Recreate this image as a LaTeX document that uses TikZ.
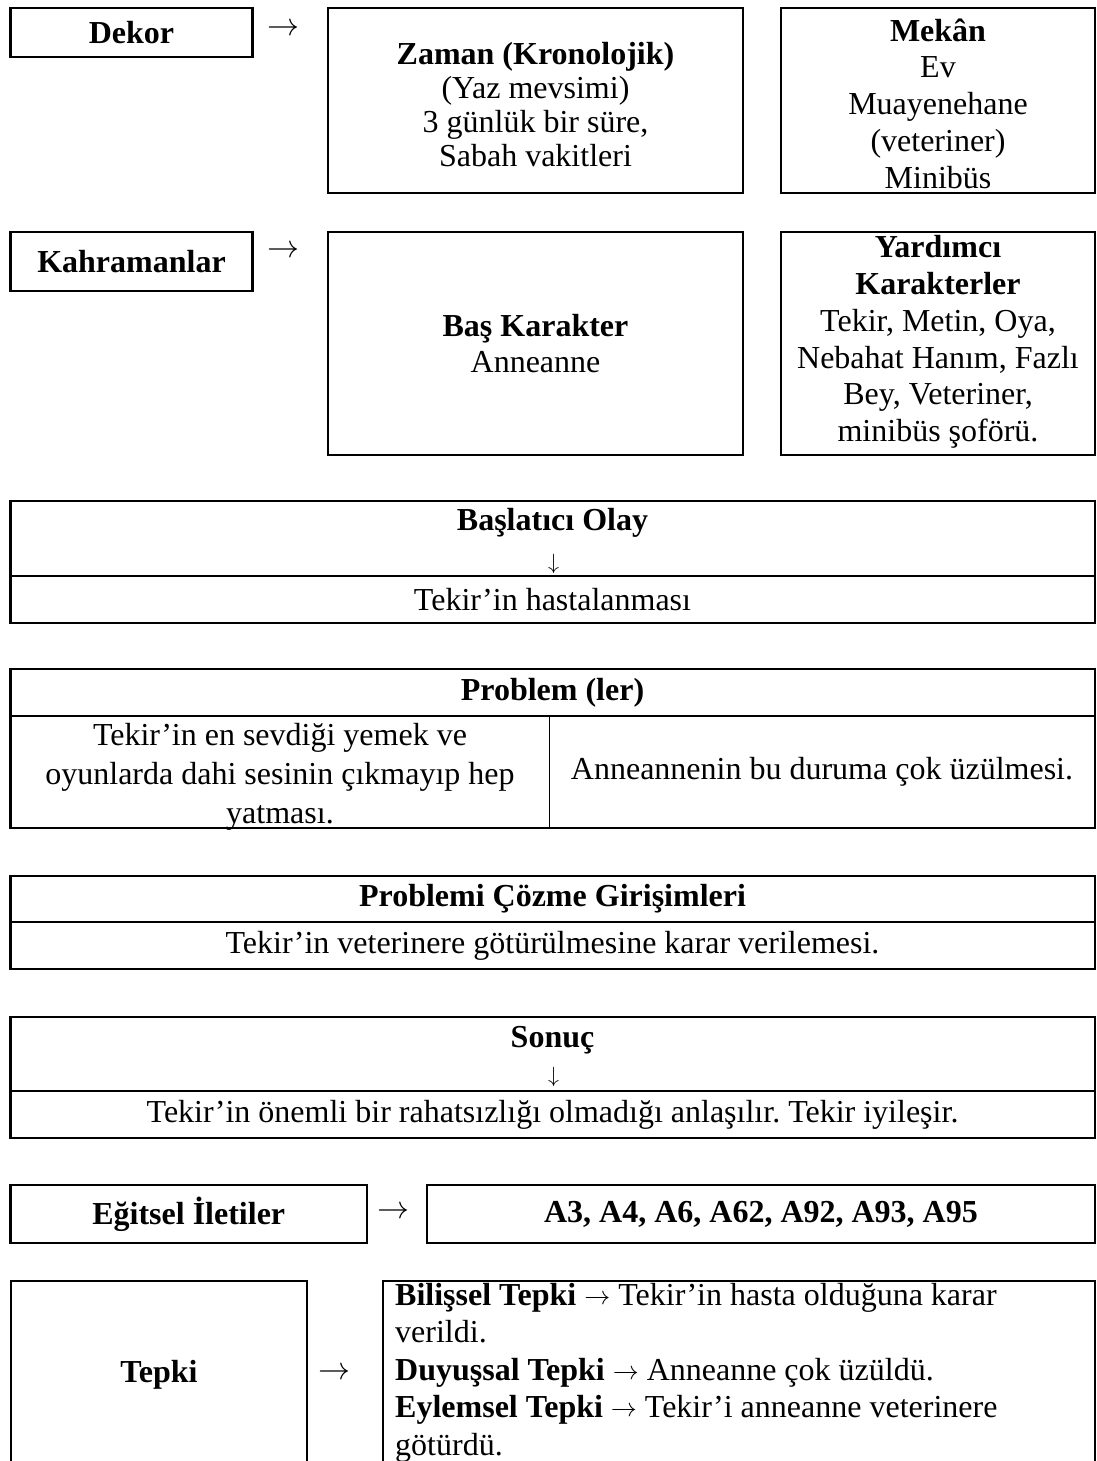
\documentclass[tikz,border=0pt]{standalone}
\usepackage{fontspec}
\usepackage{graphicx}
\setmainfont{Liberation Serif}
\newcommand{\cmsyglyph}[1]{{\fontencoding{OMS}\fontfamily{cmsy}\fontseries{m}\fontshape{n}\fontsize{10}{10}\selectfont\symbol{#1}}}
\newcommand{\inarr}{\raisebox{1pt}{\scalebox{2.6}{\cmsyglyph{"21}}}}
\newcommand{\bigarr}{\scalebox{3.2}{\cmsyglyph{"21}}}
\newcommand{\dnarr}{\scalebox{2.2}{\cmsyglyph{"23}}}
\tikzset{
  box/.style={draw, line width=2.2pt, anchor=north west, inner sep=0pt, outer sep=0pt},
  txt/.style={font=\fontsize{32}{36.8}\selectfont\frenchspacing, align=center, inner sep=0pt},
  tight/.style={font=\fontsize{32}{34}\selectfont, align=center, inner sep=0pt},
  loose/.style={font=\fontsize{32}{39}\selectfont, align=center, inner sep=0pt},
  bt/.style={font=\fontsize{32}{36.8}\selectfont\bfseries, align=center, inner sep=0pt},
  lt/.style={font=\fontsize{32}{36.8}\selectfont\frenchspacing, anchor=base west, inner sep=0pt},
  divider/.style={line width=2.2pt},
  thindiv/.style={line width=1.3pt}
}
\begin{document}
\begin{tikzpicture}[x=1pt,y=-1pt]
\useasboundingbox (0,0) rectangle (1097,1461);
\clip (0,0) rectangle (1097,1461);

% Row 1: Dekor
\node[box, minimum width=242pt, minimum height=49pt] (dekor) at (10.5,8) {};
\node[bt] (dekort) at (dekor.center) {Dekor};
\node[txt] (ar1) at (283,30) {\bigarr};
\node[box, minimum width=415pt, minimum height=185pt] (zaman) at (328,8) {};
\node[tight] (zamant) at (535.5,105) {\textbf{Zaman (Kronolojik)}\\(Yaz mevsimi)\\3 günlük bir süre,\\Sabah vakitleri};
\node[box, minimum width=314pt, minimum height=185pt] (mekan) at (781,8) {};
\node[txt] (mekant) at (938,103.5) {\textbf{Mekân}\\Ev\\Muayenehane\\(veteriner)\\Minibüs};

% Row 2: Kahramanlar
\node[box, minimum width=242pt, minimum height=59pt] (kahr) at (10.5,232) {};
\node[bt] (kahrt) at (kahr.center) {Kahramanlar};
\node[txt] (ar2) at (283,252) {\bigarr};
\node[box, minimum width=415pt, minimum height=223pt] (bas) at (328,232) {};
\node[txt] (bast) at (bas.center) {\textbf{Baş Karakter}\\Anneanne};
\node[box, minimum width=314pt, minimum height=223pt] (yard) at (781,232) {};
\node[txt] (yardt) at (938,342) {\textbf{Yardımcı}\\\textbf{Karakterler}\\Tekir, Metin, Oya,\\Nebahat Hanım, Fazlı\\Bey, Veteriner,\\minibüs şoförü.};

% Başlatıcı Olay
\node[box, minimum width=1084.5pt, minimum height=122pt] (baslat) at (10.5,501) {};
\coordinate (bd) at (0,576);
\draw[divider] (baslat.west |- bd) -- (baslat.east |- bd);
\node[bt] (baslatt) at (552.5,523) {Başlatıcı Olay};
\node[txt] (baslatar) at (553.5,564) {\dnarr};
\node[txt] (baslatx) at (552.5,599.5) {Tekir’in hastalanması};

% Problem(ler)
\node[box, minimum width=1084.5pt, minimum height=159pt] (prob) at (10.5,669) {};
\coordinate (pd) at (0,716);
\coordinate (pv) at (549.5,0);
\draw[divider] (prob.west |- pd) -- (prob.east |- pd);
\draw[thindiv] (pv |- pd) -- (pv |- prob.south);
\node[bt] (probt) at (552.5,692.5) {Problem (ler)};
\node[loose] (probl) at (280,777) {Tekir’in en sevdiği yemek ve\\oyunlarda dahi sesinin çıkmayıp hep\\yatması.};
\node[txt] (probr) at (822,772) {Anneannenin bu duruma çok üzülmesi.};

% Problemi Çözme Girişimleri
\node[box, minimum width=1084.5pt, minimum height=93pt] (coz) at (10.5,876) {};
\coordinate (cd) at (0,922);
\draw[divider] (coz.west |- cd) -- (coz.east |- cd);
\node[bt] (cozt) at (552.5,899) {Problemi Çözme Girişimleri};
\node[txt] (cozx) at (552.5,945.5) {Tekir’in veterinere götürülmesine karar verilemesi.};

% Sonuç
\node[box, minimum width=1084.5pt, minimum height=121pt] (sonuc) at (10.5,1017) {};
\coordinate (sd) at (0,1091);
\draw[divider] (sonuc.west |- sd) -- (sonuc.east |- sd);
\node[bt] (sonuct) at (552.5,1040) {Sonuç};
\node[txt] (sonucar) at (553.5,1077) {\dnarr};
\node[txt] (sonucx) at (552.5,1114.5) {Tekir’in önemli bir rahatsızlığı olmadığı anlaşılır. Tekir iyileşir.};

% Eğitsel İletiler
\node[box, minimum width=356.5pt, minimum height=58pt] (egit) at (10.5,1185) {};
\node[bt] (egitt) at (egit.center) {Eğitsel İletiler};
\node[txt] (ar3) at (393,1213) {\bigarr};
\node[box, minimum width=668pt, minimum height=58pt] (acode) at (427,1185) {};
\node[bt] (acodet) at (acode.center) {A3, A4, A6, A62, A92, A93, A95};

% Tepki
\node[box, minimum width=296pt, minimum height=200pt] (tepki) at (11,1281) {};
\node[bt] (tepkit) at (159,1375) {Tepki};
\node[txt] (ar4) at (334,1374) {\bigarr};
\node[box, minimum width=712pt, minimum height=200pt] (tepkir) at (383,1281) {};
\node[lt] (l1) at (395,1305) {\textbf{Bilişsel Tepki} \inarr{} Tekir’in hasta olduğuna karar};
\node[lt] (l2) at (395,1342.5) {verildi.};
\node[lt] (l3) at (395,1380) {\textbf{Duyuşsal Tepki} \inarr{} Anneanne çok üzüldü.};
\node[lt] (l4) at (395,1417.5) {\textbf{Eylemsel Tepki} \inarr{} Tekir’i anneanne veterinere};
\node[lt] (l5) at (395,1455) {götürdü.};
\end{tikzpicture}
\end{document}
